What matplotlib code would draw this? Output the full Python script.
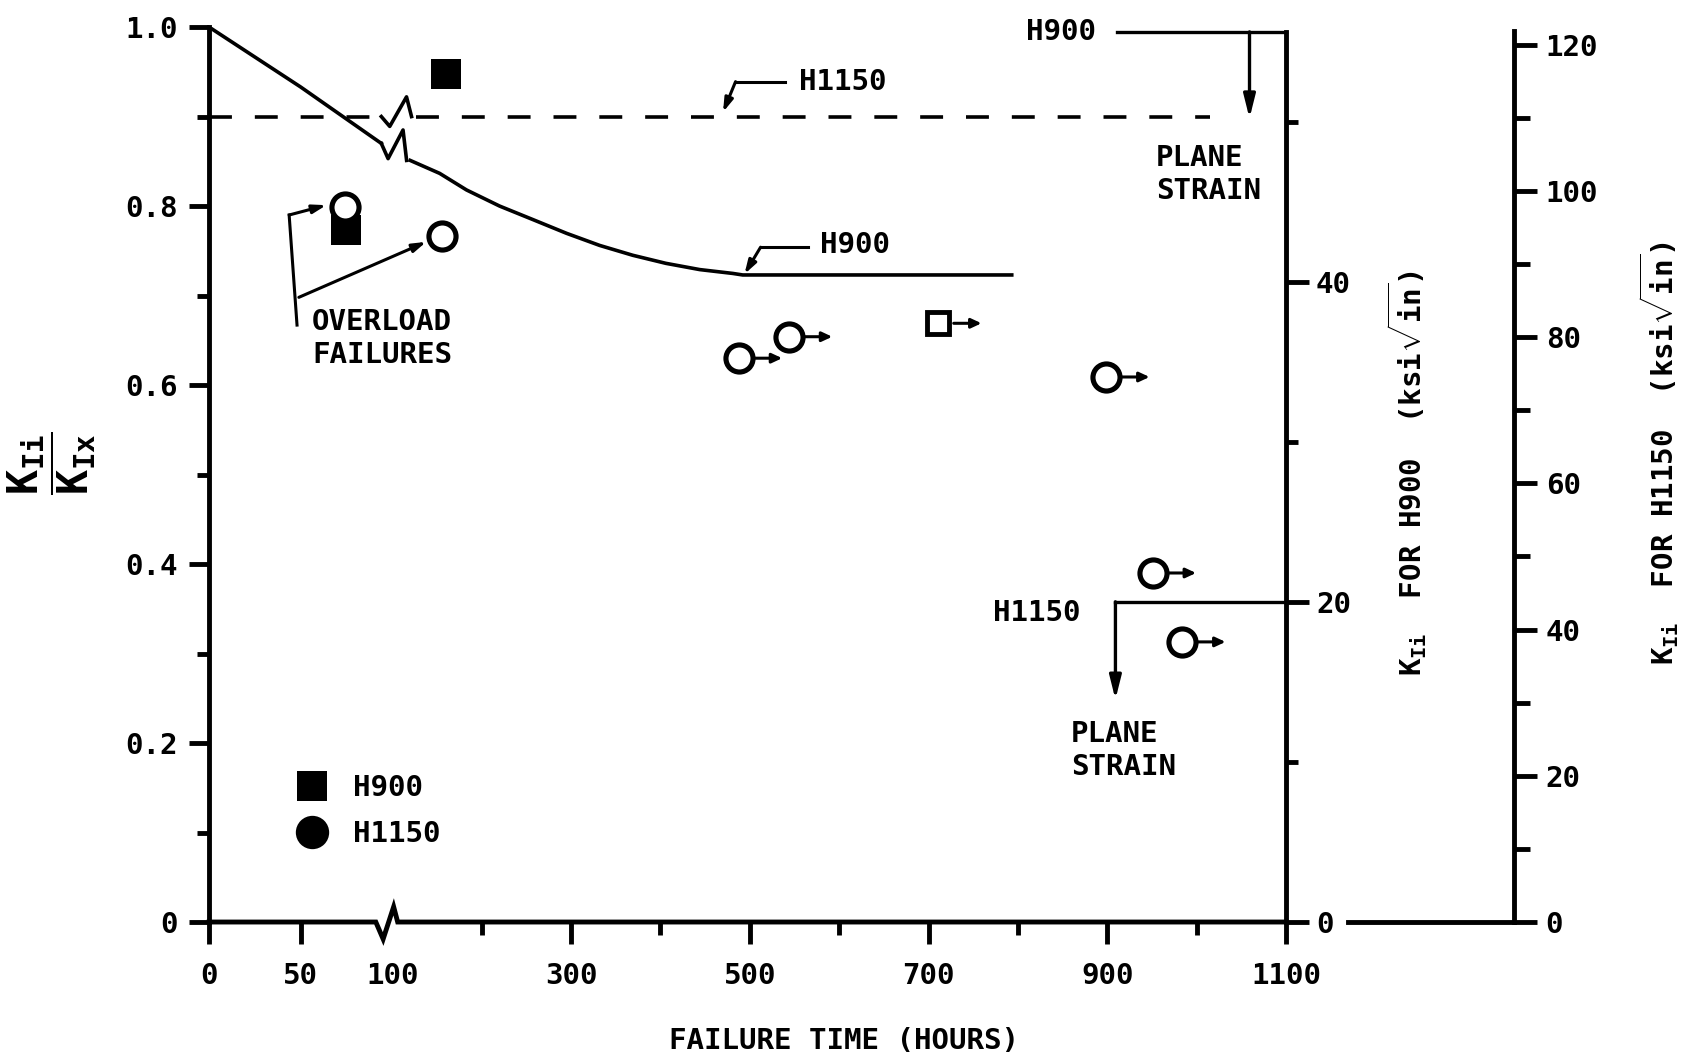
import numpy as np
import matplotlib
matplotlib.use("Agg")
import matplotlib.pyplot as plt
import matplotlib.transforms as mtransforms
from matplotlib.lines import Line2D
from matplotlib.ticker import FixedLocator, FuncFormatter, NullFormatter

plt.rcParams['font.family'] = ['DejaVu Sans Mono']
plt.rcParams['font.weight'] = 'bold'
plt.rcParams['axes.labelweight'] = 'bold'
plt.rcParams['font.size'] = 21
plt.rcParams['mathtext.fontset'] = 'custom'
plt.rcParams['mathtext.rm'] = 'DejaVu Sans Mono:bold'
plt.rcParams['mathtext.it'] = 'DejaVu Sans Mono:bold'
plt.rcParams['mathtext.bf'] = 'DejaVu Sans Mono:bold'
plt.rcParams['lines.scale_dashes'] = False

# threshold curve for H900 (K_Ii/K_Ix vs hours), in two pieces around the 100 h break
h900_curve_t1 = [0, 50, 94]
h900_curve_r1 = [1.0, 0.933, 0.870]
h900_curve_t2 = [120, 153, 183, 220, 257, 295, 332, 369, 406, 444, 481, 492, 793]
h900_curve_r2 = [0.851, 0.8365, 0.818, 0.800, 0.785, 0.7695, 0.756, 0.745, 0.736, 0.729,
                 0.7247, 0.723, 0.723]

# threshold level for H1150 (dashed)
h1150_level = 0.90
h1150_end_t = 1015

# H900 specimens
h900_fail_t = [159.6, 74.6]
h900_fail_r = [0.948, 0.773]
h900_runout_t = [711]
h900_runout_r = [0.669]

# H1150 specimens
h1150_overload_t = [74.3, 156]
h1150_overload_r = [0.799, 0.766]
h1150_runout_t = [488, 544, 899, 951, 984]
h1150_runout_r = [0.630, 0.654, 0.609, 0.390, 0.313]

# plane strain K_Ic levels on the H900 K scale
ps_labels = ['H900', 'H1150']
ps_k = [55.6, 20.0]
ps_line_start_t = [911, 909]
ps_arrow_t = [1059, 909]
ps_arrow_tip_k = [50.2, 13.9]

xticks_major = [0, 50, 100, 300, 500, 700, 900, 1100]
xticks_minor = [200, 400, 600, 800, 1000]
yticks_major = [0, 0.2, 0.4, 0.6, 0.8, 1.0]
yticks_minor = [0.1, 0.3, 0.5, 0.7, 0.9]
k900_major = [0, 20, 40]
k900_minor = [10, 30, 50]
k1150_major = [0, 20, 40, 60, 80, 100, 120]
k1150_minor = [10, 30, 50, 70, 90, 110]

# the first 100 hours are drawn at a larger scale than the rest
BREAK_T = 100
STRETCH = 2.05


def stretch_fwd(t):
    t = np.asarray(t, dtype=float)
    return np.where(t <= BREAK_T, t * STRETCH, BREAK_T * STRETCH + (t - BREAK_T))


def stretch_inv(u):
    u = np.asarray(u, dtype=float)
    return np.where(u <= BREAK_T * STRETCH, u / STRETCH, u - BREAK_T * STRETCH + BREAK_T)


fig = plt.figure(figsize=(16.97, 10.57), dpi=100)
ax = fig.add_axes([0.1232, 0.1277, 0.6347, 0.8467])
ax.set_xscale('function', functions=(stretch_fwd, stretch_inv))
ax.set_xlim(0, 1100)
ax.set_ylim(0, 1.0)

for side in ('top', 'right', 'bottom'):
    ax.spines[side].set_visible(False)
ax.spines['left'].set_linewidth(3.5)

ax.xaxis.set_major_locator(FixedLocator(xticks_major))
ax.xaxis.set_minor_locator(FixedLocator(xticks_minor))
ax.xaxis.set_major_formatter(FuncFormatter(lambda v, p: f'{v:.0f}'))
ax.xaxis.set_minor_formatter(NullFormatter())
ax.yaxis.set_major_locator(FixedLocator(yticks_major))
ax.yaxis.set_minor_locator(FixedLocator(yticks_minor))
ax.yaxis.set_major_formatter(FuncFormatter(lambda v, p: '0' if v == 0 else f'{v:.1f}'))
ax.tick_params(axis='x', which='major', length=16, width=3.5, pad=13, labelsize=21)
ax.tick_params(axis='x', which='minor', length=9.5, width=3.5)
ax.tick_params(axis='y', which='major', length=14.5, width=3.5, pad=8, labelsize=21)
ax.tick_params(axis='y', which='minor', length=8.5, width=3.5)
# no tick mark under the break itself
ax.xaxis.get_major_ticks()[2].tick1line.set_visible(False)

# time axis with a break mark at 100 h
brk_dt = np.array([-9, -5, 1.5, 6])
axis_brk_dr = np.array([0, -0.019, 0.017, 0])
ax.plot(np.r_[0, BREAK_T + brk_dt, 1100], np.r_[0, axis_brk_dr, 0],
        color='black', lw=3.5, clip_on=False, solid_joinstyle='miter', zorder=3)

# H1150 dashed level with its own break mark
dash_kw = dict(color='black', lw=2.6, dashes=(16.5, 16.5))
ax.plot([0, 94], [h1150_level] * 2, **dash_kw)
ax.plot([127, h1150_end_t], [h1150_level] * 2, **dash_kw)
ax.plot(BREAK_T + np.array([-6, -1.4, 15.9, 21.5]), h1150_level + np.array([0, -0.011, 0.022, 0]),
        color='black', lw=2.6)

# H900 curve with break mark
ax.plot(h900_curve_t1, h900_curve_r1, color='black', lw=2.6, solid_joinstyle='round')
ax.plot(BREAK_T + np.array([-6, -2.3, 12, 16]), np.array([0.870, 0.853, 0.885, 0.851]),
        color='black', lw=2.6)
ax.plot(h900_curve_t2, h900_curve_r2, color='black', lw=2.6, solid_joinstyle='round')

# specimens
ax.plot(h900_fail_t, h900_fail_r, ls='none', marker='s', ms=21, color='black', mew=0, zorder=4)
ax.plot(h900_runout_t, h900_runout_r, ls='none', marker='s', ms=16.5, mfc='white', mec='black',
        mew=3.5, zorder=5)
ax.plot(h1150_overload_t, h1150_overload_r, ls='none', marker='o', ms=19.5, mfc='white',
        mec='black', mew=3.7, zorder=5)
ax.plot(h1150_runout_t, h1150_runout_r, ls='none', marker='o', ms=19.5, mfc='white', mec='black',
        mew=3.7, zorder=5)


def runout_arrow(axis, t, r, start_pt=11, end_pt=31):
    tail = mtransforms.offset_copy(axis.transData, fig=fig, x=start_pt, y=0, units='points')
    head = mtransforms.offset_copy(axis.transData, fig=fig, x=end_pt, y=0, units='points')
    axis.annotate('', xy=(t, r), xycoords=head, xytext=(t, r), textcoords=tail,
                  arrowprops=dict(arrowstyle='-|>,head_length=0.6,head_width=0.28',
                                  mutation_scale=10, lw=2.2, color='black',
                                  shrinkA=0, shrinkB=0))


for t, r in zip(h900_runout_t + h1150_runout_t, h900_runout_r + h1150_runout_r):
    runout_arrow(ax, t, r)

arrow_small = dict(arrowstyle='-|>,head_length=0.8,head_width=0.25', mutation_scale=10,
                   lw=2.2, color='black', shrinkA=0, shrinkB=0)

# curve labels with leaders
ax.plot([539, 484], [0.939, 0.939], color='black', lw=2.2)
ax.annotate('', xy=(470, 0.905), xytext=(484, 0.939), arrowprops=arrow_small)
ax.text(555, 0.939, 'H1150', ha='left', va='center')
ax.plot([565, 512], [0.754, 0.754], color='black', lw=2.2)
ax.annotate('', xy=(494, 0.724), xytext=(512, 0.754), arrowprops=arrow_small)
ax.text(579, 0.756, 'H900', ha='left', va='center')

# overload failures bracket
ax.plot([43.7, 48], [0.790, 0.667], color='black', lw=2.2)
ax.annotate('', xy=(64, 0.801), xytext=(43.7, 0.790), arrowprops=arrow_small)
ax.annotate('', xy=(138, 0.760), xytext=(49, 0.698), arrowprops=arrow_small)
ax.text(94.5, 0.652, 'OVERLOAD\nFAILURES', ha='center', va='center', linespacing=1.2)

# legend
handles = [Line2D([], [], ls='none', marker='s', ms=21, color='black', mew=0),
           Line2D([], [], ls='none', marker='o', ms=24, color='black', mew=0)]
ax.legend(handles, ['H900', 'H1150'], loc='upper left', bbox_to_anchor=(0.082, 0.165),
          frameon=False, borderpad=0, borderaxespad=0, handlelength=1.0,
          handletextpad=0.9, labelspacing=0.6, fontsize=21)

ax.set_xlabel('FAILURE TIME (HOURS)')
ax.xaxis.set_label_coords(0.5896, -0.117)
ax.text(-0.146, 0.513, r'$\dfrac{K_{Ii}}{K_{Ix}}$', transform=ax.transAxes, rotation=90,
        ha='center', va='center', fontsize=30)

# K scale for H900
ax2 = ax.twinx()
ax2.set_ylim(0, 55.9)
for side in ('top', 'left', 'bottom'):
    ax2.spines[side].set_visible(False)
ax2.spines['right'].set_linewidth(3.5)
ax2.spines['right'].set_bounds(0, 55.6)
ax2.yaxis.set_major_locator(FixedLocator(k900_major))
ax2.yaxis.set_minor_locator(FixedLocator(k900_minor))
ax2.tick_params(axis='y', which='major', length=16.5, width=3.5, pad=5, labelsize=21)
ax2.tick_params(axis='y', which='minor', length=8.6, width=3.5)
ax2.set_ylabel(r'$K_{Ii}$  FOR H900  (ksi$\sqrt{in}$)')
ax2.yaxis.set_label_coords(1.112, 0.502)
ax2.yaxis.label.set_verticalalignment('center')

# plane strain levels
for lab, k, t0, ta, tip in zip(ps_labels, ps_k, ps_line_start_t, ps_arrow_t, ps_arrow_tip_k):
    ax2.plot([t0, 1100], [k, k], color='black', lw=2.4, clip_on=False)
    ax2.annotate('', xy=(ta, tip), xytext=(ta, k),
                 arrowprops=dict(arrowstyle='-|>,head_length=1.4,head_width=0.35',
                                 mutation_scale=10, lw=2.4, color='black', shrinkA=0, shrinkB=0))
ax2.text(887, 55.6, 'H900', ha='right', va='center')
ax2.text(954, 46.7, 'PLANE\nSTRAIN', ha='left', va='center', linespacing=1.25)
ax2.text(870, 19.3, 'H1150', ha='right', va='center')
ax2.text(859, 10.7, 'PLANE\nSTRAIN', ha='left', va='center', linespacing=1.25)

# K scale for H1150
ax3 = ax.twinx()
ax3.set_ylim(0, 122.4)
for side in ('top', 'left', 'bottom'):
    ax3.spines[side].set_visible(False)
ax3.spines['right'].set_position(('axes', 1.212))
ax3.spines['right'].set_linewidth(3.5)
ax3.spines['right'].set_bounds(0, 121.8)
ax3.yaxis.set_major_locator(FixedLocator(k1150_major))
ax3.yaxis.set_minor_locator(FixedLocator(k1150_minor))
ax3.tick_params(axis='y', which='major', length=16.5, width=3.5, pad=6, labelsize=21)
ax3.tick_params(axis='y', which='minor', length=11.5, width=3.5)
ax3.set_ylabel(r'$K_{Ii}$  FOR H1150  (ksi$\sqrt{in}$)')
ax3.yaxis.set_label_coords(1.346, 0.524)
ax3.yaxis.label.set_verticalalignment('center')
base = mtransforms.blended_transform_factory(ax3.transAxes, ax3.transData)
ax3.add_line(Line2D([1.057, 1.212], [0, 0], transform=base, color='black', lw=3.5, clip_on=False))

fig.savefig('out.png', dpi=100)
